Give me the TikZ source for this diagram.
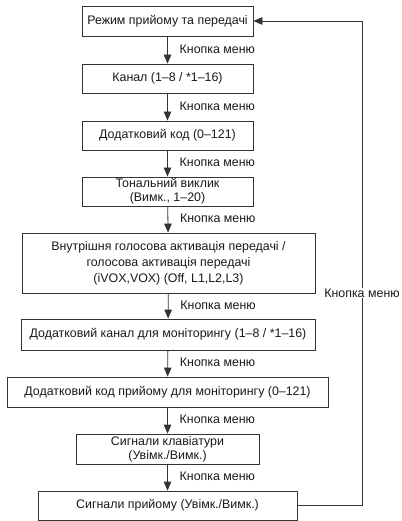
\documentclass[tikz,border=0pt]{standalone}
\usepackage{fontspec}
\setmainfont{Liberation Sans}
\usetikzlibrary{arrows.meta}

\begin{document}
\begin{tikzpicture}[x=1pt, y=-1pt,
    box/.style={draw=black!80, line width=0.8pt, align=center, inner sep=0pt,
        minimum height=29pt, text=black!90, font=\fontsize{12.4}{14}\selectfont},
    arr/.style={draw=black!80, line width=0.8pt, -{Triangle[length=9pt,width=7.5pt]}},
    lbl/.style={anchor=west, xshift=8.5pt, yshift=1pt, text=black!90, font=\fontsize{12.4}{14}\selectfont}]
    \useasboundingbox (0,0) rectangle (401,521);
    % Menu steps
    \node[box, minimum width=171pt, minimum height=30pt] (mode) at (167.5,21) {Режим прийому та передачі};
    \node[box, minimum width=171pt] (chan) at (167.5,78.5) {Канал (1–8 / *1–16)};
    \node[box, minimum width=171pt] (code) at (167.5,135.5) {Додатковий код (0–121)};
    \node[box, minimum width=171pt] (tone) at (167.5,191.5) {Тональний виклик\\(Вимк., 1–20)};
    \node[box, minimum width=293pt, minimum height=60pt, font=\fontsize{12.4}{16}\selectfont] (vox) at (168.5,263)
        {Внутрішня голосова активація передачі /\\голосова активація передачі\\(iVOX,VOX) (Off, L1,L2,L3)};
    \node[box, minimum width=294pt, minimum height=31pt] (monch) at (168,334.5) {Додатковий канал для моніторингу (1–8 / *1–16)};
    \node[box, minimum width=321pt, minimum height=30pt] (moncode) at (167.5,392) {Додатковий код прийому для моніторингу (0–121)};
    \node[box, minimum width=183pt, minimum height=30pt] (keys) at (167.5,449) {Сигнали клавіатури\\(Увімк./Вимк.)};
    \node[box, minimum width=259pt] (rxsig) at (167.5,505.5) {Сигнали прийому (Увімк./Вимк.)};
    % Arrows down
    \draw[arr] (mode) -- node[lbl] {Кнопка меню} (chan);
    \draw[arr] (chan) -- node[lbl] {Кнопка меню} (code);
    \draw[arr] (code) -- node[lbl] {Кнопка меню} (tone);
    \draw[arr] (tone) -- node[lbl] {Кнопка меню} (vox);
    \draw[arr] (vox) -- node[lbl] {Кнопка меню} (monch);
    \draw[arr] (monch) -- node[lbl] {Кнопка меню} (moncode);
    \draw[arr] (moncode) -- node[lbl] {Кнопка меню} (keys);
    \draw[arr] (keys) -- node[lbl] {Кнопка меню} (rxsig);
    % Return to start
    \coordinate (back) at (362,293);
    \draw[arr] (rxsig.east) -- (rxsig.east -| back) -- (mode.east -| back) -- (mode.east);
    \node[fill=white, inner sep=1pt, text=black!90, font=\fontsize{12.4}{14}\selectfont] (backlbl) at (back) {Кнопка меню};
\end{tikzpicture}
\end{document}
